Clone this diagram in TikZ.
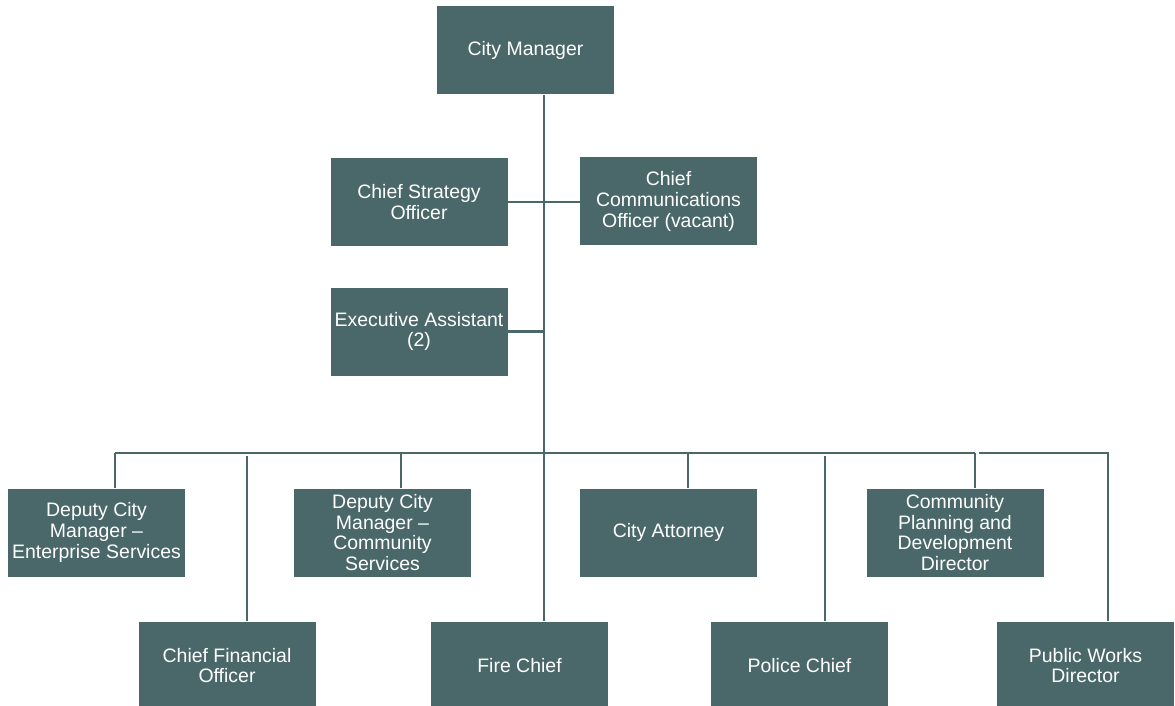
\documentclass[tikz,border=0pt]{standalone}
\usepackage{fontspec}
\setmainfont{Liberation Sans}
\usepackage{xcolor}
\definecolor{boxteal}{HTML}{4A6869}
\usetikzlibrary{positioning}

\begin{document}
\begin{tikzpicture}[x = 0.75pt, y = -0.75pt,
		post/.style = {draw = none, fill = boxteal, text = white, inner sep = 0pt, minimum width = 132.75pt, minimum height = 66pt, align = center, font = \fontsize{14.6}{15.6}\selectfont},
		link/.style = {draw = boxteal, line width = 1.6pt}]
			\clip (0,0) rectangle (1175,706);
			\node[post] (cm) at (525.5,50.5) {City Manager};
			\node[post] (cso) at (419,202) {Chief Strategy\\Officer};
			\node[post] (cco) at (668.5,201.5) {Chief\\Communications\\Officer (vacant)};
			\node[post] (ea) at (419,331.5) {Executive Assistant\\(2)};
			\node[post] (dcme) at (96.5,532.5) {Deputy City\\Manager --\\Enterprise Services};
			\node[post] (dcmc) at (382.5,532.5) {Deputy City\\Manager --\\Community\\Services};
			\node[post] (ca) at (668.5,532.5) {City Attorney};
			\node[post] (cpd) at (955,532.5) {Community\\Planning and\\Development\\Director};
			\node[post] (cfo) at (227,665.5) {Chief Financial\\Officer};
			\node[post] (fire) at (519.5,665.5) {Fire Chief};
			\node[post] (police) at (799.5,665.5) {Police Chief};
			\node[post] (pw) at (1085.5,665.5) {Public Works\\Director};
			\coordinate (bus) at (544,453);
			\coordinate (busl) at (115,453);
			\coordinate (busr) at (975,453);
			\coordinate (dcmcdrop) at (401,453);
			\coordinate (cadrop) at (688,453);
			\coordinate (cfodrop) at (247,456);
			\coordinate (policedrop) at (825,456);
			\coordinate (pwstart) at (979,453);
			\coordinate (pwcorner) at (1108,453);
			\draw[link] (cm.south -| bus) -- (bus);
			\draw[link] (cso.east) -- (cso.east -| cco.west);
			\draw[link] (ea.east) -- (ea.east -| bus);
			\draw[link] (busl) -- (busr);
			\draw[link] (busl) -- (busl |- dcme.north);
			\draw[link] (dcmcdrop) -- (dcmcdrop |- dcmc.north);
			\draw[link] (cadrop) -- (cadrop |- ca.north);
			\draw[link] (busr) -- (busr |- cpd.north);
			\draw[link] (cfodrop) -- (cfodrop |- cfo.north);
			\draw[link] (bus) -- (bus |- fire.north);
			\draw[link] (policedrop) -- (policedrop |- police.north);
			\draw[link] (pwstart) -- (pwcorner) -- (pwcorner |- pw.north);
		\end{tikzpicture}
\end{document}
